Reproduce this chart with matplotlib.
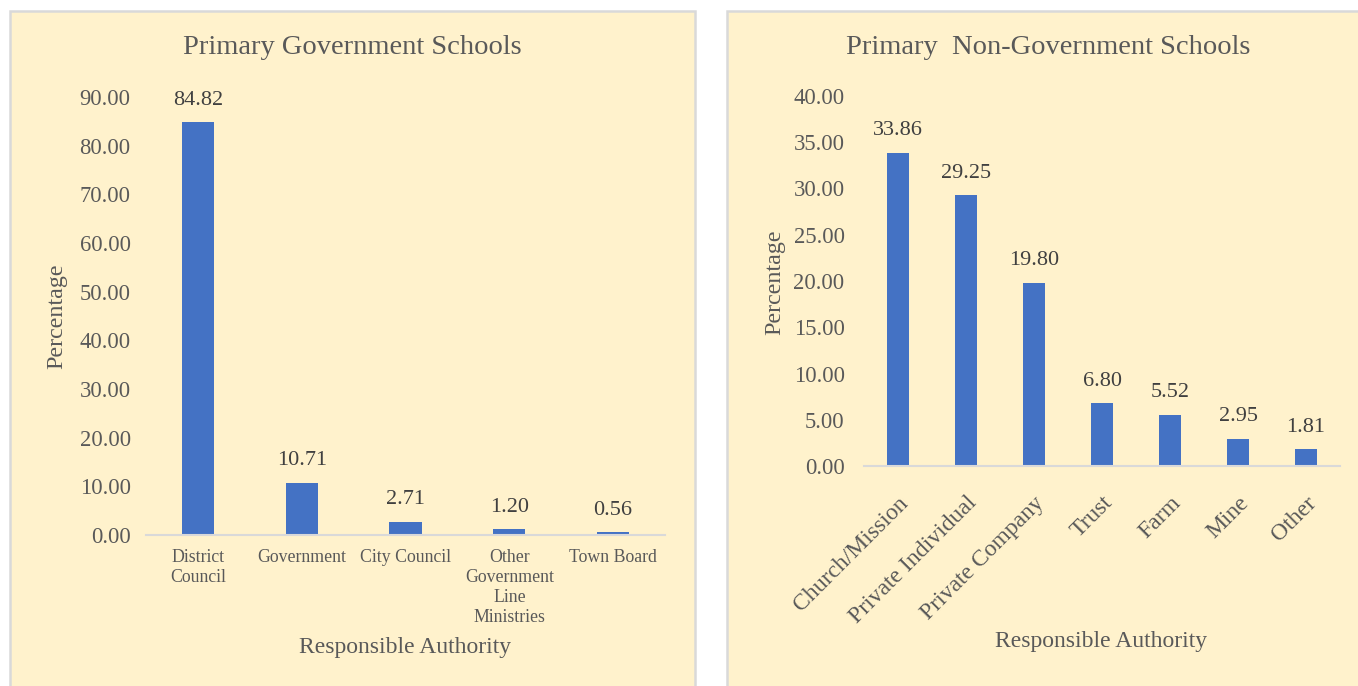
import matplotlib.pyplot as plt
from matplotlib.patches import Rectangle

plt.rcParams['font.family'] = ['Liberation Serif', 'DejaVu Serif']

# government schools by responsible authority (%)
gov_labels = ['District\nCouncil', 'Government', 'City Council',
              'Other\nGovernment\nLine\nMinistries', 'Town Board']
gov_values = [84.82, 10.71, 2.71, 1.20, 0.56]

# non-government schools by responsible authority (%)
nongov_labels = ['Church/Mission', 'Private Individual', 'Private Company',
                 'Trust', 'Farm', 'Mine', 'Other']
nongov_values = [33.86, 29.25, 19.80, 6.80, 5.52, 2.95, 1.81]

BAR = '#4472C4'
PANEL = '#FFF2CC'
EDGE = '#D9D9D9'
GREY = '#595959'
DARK = '#404040'

W, H = 1358, 686
fig = plt.figure(figsize=(W / 100, H / 100), dpi=100)


def px(x0, y0, x1, y1):
    # pixel box (top-left origin) -> figure fraction rect
    return [x0 / W, 1 - y1 / H, (x1 - x0) / W, (y1 - y0) / H]


# chart area backgrounds, kept underneath the axes
for x0, x1 in [(10, 695), (727, 1372)]:
    fig.patches.append(Rectangle((x0 / W, -0.02), (x1 - x0) / W, 1 - 11 / H + 0.02,
                                 transform=fig.transFigure, facecolor=PANEL,
                                 edgecolor=EDGE, linewidth=1.8, zorder=-5))


def style_axes(ax, ymax, step, ypad):
    ax.set_facecolor('none')
    for s in ['top', 'right', 'left']:
        ax.spines[s].set_visible(False)
    ax.spines['bottom'].set_color(EDGE)
    ax.spines['bottom'].set_linewidth(1.5)
    ax.set_ylim(0, ymax)
    n = int(ymax / step) + 1
    ax.set_yticks([i * step for i in range(n)])
    ax.set_yticklabels([f'{i * step:.2f}' for i in range(n)])
    ax.tick_params(axis='both', length=0, colors=GREY)
    ax.tick_params(axis='y', labelsize=16.3, pad=ypad)


def label_bars(ax, bars, values):
    for b, v in zip(bars, values):
        ax.annotate(f'{v:.2f}', (b.get_x() + b.get_width() / 2, v),
                    xytext=(0, 9), textcoords='offset points',
                    ha='center', va='bottom', fontsize=16, color=DARK)


# left: government
ax1 = fig.add_axes(px(146, 97, 665, 535))
x1 = range(len(gov_values))
bars1 = ax1.bar(x1, gov_values, width=0.31, color=BAR)
ax1.set_xlim(-0.5, len(gov_values) - 0.5)
style_axes(ax1, 90, 10, 11)
ax1.set_xticks(list(x1))
ax1.set_xticklabels(gov_labels, fontsize=12.8, linespacing=1.24)
ax1.tick_params(axis='x', pad=10)
label_bars(ax1, bars1, gov_values)
fig.text(352 / W, 1 - 48 / H, 'Primary Government Schools', ha='center', va='center',
         fontsize=20.5, color=GREY)
fig.text(405 / W, 1 - 647 / H, 'Responsible Authority', ha='center', va='center',
         fontsize=17, color=GREY)
fig.text(57 / W, 1 - 316 / H, 'Percentage', ha='center', va='center', rotation=90,
         fontsize=17.3, color=GREY)

# right: non-government
ax2 = fig.add_axes(px(864, 96, 1340, 466))
x2 = range(len(nongov_values))
bars2 = ax2.bar(x2, nongov_values, width=0.31, color=BAR)
ax2.set_xlim(-0.5, len(nongov_values) - 0.5)
style_axes(ax2, 40, 5, 14)
ax2.set_xticks(list(x2))
ax2.set_xticklabels(nongov_labels, fontsize=17, rotation=45, ha='right',
                    rotation_mode='anchor')
ax2.tick_params(axis='x', pad=19)
label_bars(ax2, bars2, nongov_values)
fig.text(1048 / W, 1 - 48 / H, 'Primary  Non-Government Schools', ha='center',
         va='center', fontsize=20.5, color=GREY)
fig.text(1101 / W, 1 - 642 / H, 'Responsible Authority', ha='center', va='center',
         fontsize=17, color=GREY)
fig.text(775 / W, 1 - 282 / H, 'Percentage', ha='center', va='center', rotation=90,
         fontsize=17.3, color=GREY)

fig.savefig('out.png', dpi=100, facecolor='white')
